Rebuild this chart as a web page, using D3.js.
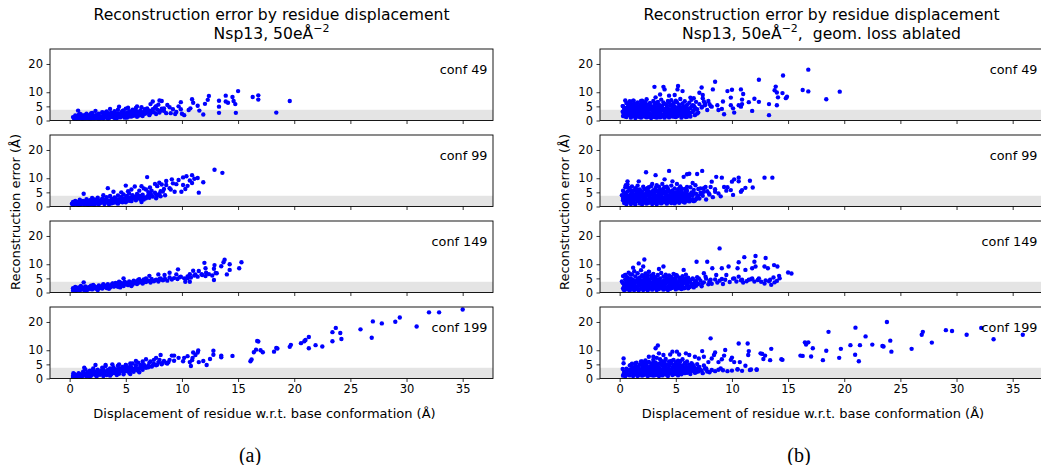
<!DOCTYPE html>
<html><head><meta charset="utf-8">
<script src="https://cdn.jsdelivr.net/npm/d3@7"></script>
<style>
html,body{margin:0;padding:0;background:#fff;}
svg{display:block;font-family:"DejaVu Sans",sans-serif;}
</style>
</head><body><svg id="c" width="1041" height="465"></svg>
<script>
// ---------- data ----------
const confLabels = ["conf 49", "conf 99", "conf 149", "conf 199"];
const xTicks = [0, 5, 10, 15, 20, 25, 30, 35];
const yTicks = [0, 5, 10, 20];
const xDomain = [-1.75, 37.7];
const yDomain = [0, 25.3];
const bandTop = 3.8;

// (displacement Å, reconstruction error Å) — full model
const fullConf49 = [[0.3,1.2],[0.4,0.6],[0.5,1.8],[0.5,0.4],[0.6,1.0],[0.7,0.5],[0.8,1.5],[0.9,0.7],[1.0,2.1],[1.0,0.4],[1.1,1.2],[1.2,0.6],[1.3,1.9],[1.4,0.9],[1.5,2.4],[1.5,0.5],[1.6,1.4],[1.7,0.8],[1.8,2.0],[1.9,0.5],[2.0,1.6],[2.0,2.7],[2.1,1.0],[2.2,0.6],[2.3,1.9],[2.4,1.2],[2.5,0.7],[2.6,2.4],[2.7,1.5],[2.8,0.9],[2.9,2.9],[3.0,1.8],[3.0,0.6],[3.1,1.2],[3.2,2.3],[3.3,3.2],[3.4,1.5],[3.5,0.8],[3.6,2.0],[3.7,2.8],[3.8,1.2],[3.9,1.8],[4.0,3.3],[4.0,0.9],[4.1,2.4],[4.2,1.5],[4.3,3.8],[4.4,2.0],[4.5,1.1],[4.6,2.9],[4.7,1.7],[4.8,3.6],[4.9,2.3],[5.0,1.3],[5.0,4.2],[5.1,2.8],[5.2,1.8],[5.3,3.3],[5.4,2.3],[5.5,1.4],[5.6,3.8],[5.7,2.7],[5.8,2.0],[5.9,4.4],[6.0,3.1],[6.1,1.7],[6.2,2.5],[6.3,3.6],[6.4,4.7],[6.5,2.2],[6.6,3.0],[6.7,4.0],[6.8,2.6],[6.9,3.9],[7.0,3.3],[7.1,1.9],[7.3,3.5],[7.5,2.9],[7.6,4.6],[7.8,3.8],[8.0,2.8],[8.2,4.2],[8.4,3.4],[8.6,2.6],[0.6,0.3],[1.2,0.3],[1.8,0.4],[2.6,0.5],[3.4,0.6],[4.2,0.8],[5.1,1.0],[6.0,1.3],[1.4,1.6],[2.2,1.4],[3.0,2.4],[3.8,2.5],[4.6,1.4],[5.4,3.0],[6.3,1.9],
[0.4,0.9],[0.7,1.3],[0.9,2.4],[1.1,0.7],[1.3,1.3],[1.5,1.9],[1.7,1.2],[1.9,2.5],[2.1,0.8],[2.3,1.3],[2.5,2.0],[2.7,0.8],[2.9,1.3],[3.1,2.8],[3.3,1.0],[3.5,1.9],[3.7,1.5],[3.9,2.6],[4.1,1.1],[4.3,2.5],[4.5,2.1],[4.7,3.4],[4.9,1.0],[5.1,2.0],[5.3,1.4],[5.5,2.9],[5.7,1.7],[5.9,3.4],[6.1,2.3],[6.3,3.0],[6.5,1.6],[6.7,2.4],[6.9,3.0],[7.2,2.6],[7.4,4.0],[7.7,2.3],[0.8,2.0],[2.0,2.0],[3.5,2.5],[4.8,2.7],[5.6,3.3],
[15.0,10.4],[16.3,8.3],[16.8,8.9],[16.8,7.4],[19.6,6.9],[18.4,2.8],[14.8,2.7],[13.3,2.7],[13.3,4.9],[13.3,7.0],[13.9,8.8],[14.5,8.3],[13.9,6.7],[14.1,6.3],[14.6,6.9],[14.75,5.8],[12.4,8.7],[12.3,7.3],[12.05,5.9],[11.9,2.1],[11.4,5.2],[11.55,3.5],[10.9,7.5],[11.0,6.3],[10.75,4.3],[10.6,3.7],[9.9,6.5],[9.9,4.0],[10.2,1.9],[9.4,2.3],[9.2,4.0],[8.7,5.5],[8.9,4.7],[8.2,6.9],[8.0,7.1],[7.4,6.7],[7.2,5.8],[7.7,5.1],[6.9,4.3],[6.0,5.0],[5.2,4.5],[4.4,4.9],[3.6,4.1],[2.3,3.4],[0.75,3.5],[7.9,5.6],[8.4,4.3],[8.1,3.5],[9.5,3.0],[7.0,3.6],[9.0,2.6],[10.0,2.4],[9.7,5.0]];

const fullConf99 = [[0.2,1.0],[0.3,1.6],[0.4,0.6],[0.5,2.0],[0.6,1.1],[0.7,0.5],[0.8,1.7],[0.9,2.4],[1.0,0.8],[1.1,1.4],[1.2,2.0],[1.3,0.6],[1.4,1.1],[1.5,2.6],[1.6,1.7],[1.7,0.7],[1.8,2.2],[1.9,1.2],[2.0,3.0],[2.0,0.9],[2.1,1.8],[2.2,2.5],[2.3,1.0],[2.4,1.5],[2.5,3.1],[2.6,0.8],[2.7,2.1],[2.8,1.3],[2.9,2.8],[3.0,1.7],[3.1,0.9],[3.2,2.4],[3.3,3.3],[3.4,1.4],[3.5,2.0],[3.6,3.7],[3.7,1.1],[3.8,2.7],[3.9,1.8],[4.0,3.2],[4.1,2.2],[4.2,1.3],[4.3,3.9],[4.4,2.6],[4.5,1.7],[4.6,3.4],[4.7,2.1],[4.8,4.3],[4.9,2.9],[5.0,1.5],[5.1,3.7],[5.2,2.4],[5.3,4.6],[5.4,3.1],[5.5,1.9],[5.6,4.0],[5.7,2.8],[5.8,3.5],[5.9,2.2],[6.0,4.4],[6.1,3.0],[6.2,3.8],[6.3,2.5],[6.5,4.2],[6.6,3.3],[6.8,2.9],[7.0,3.9],[7.2,4.6],[7.4,3.5],[7.6,4.9],[7.8,3.8],[8.0,4.4],[8.3,5.3],[8.5,4.0],[0.3,0.5],[0.9,0.5],[1.6,0.5],[2.2,0.6],[3.5,0.8],[4.3,1.0],[1.2,1.5],[2.5,1.9],[3.8,2.0],[4.7,2.6],[5.4,2.3],[6.4,3.6],[7.1,3.1],
[0.3,1.2],[0.5,1.4],[0.7,1.0],[0.8,0.6],[1.0,1.9],[1.2,1.0],[1.4,1.8],[1.6,1.2],[1.8,0.8],[1.9,1.7],[2.1,1.2],[2.3,2.0],[2.5,1.1],[2.7,1.6],[2.9,2.1],[3.1,1.4],[3.3,2.3],[3.5,1.2],[3.7,2.4],[3.9,1.3],[4.1,2.8],[4.3,1.8],[4.5,2.4],[4.7,1.5],[4.9,2.2],[5.1,3.0],[5.3,2.0],[5.5,2.7],[5.7,3.3],[5.9,2.9],[6.1,3.6],[6.3,3.0],[6.6,2.5],[6.9,3.5],[7.3,4.0],[7.7,4.3],[8.1,3.6],[1.0,1.3],[2.0,1.4],[3.0,2.5],[4.0,2.1],
[12.9,13.0],[13.6,11.9],[11.9,8.6],[11.5,4.9],[11.4,10.1],[10.9,11.1],[10.4,10.7],[10.1,10.3],[9.7,9.4],[9.1,9.6],[8.6,9.0],[10.9,8.3],[10.5,7.3],[10.1,7.6],[9.95,5.2],[9.35,5.2],[8.9,6.5],[8.6,7.6],[7.98,8.4],[6.9,10.4],[7.15,6.7],[6.6,6.4],[6.2,5.6],[5.8,7.1],[5.0,7.4],[3.9,5.2],[3.4,6.5],[3.0,4.0],[1.25,4.5],[7.7,2.9],[6.4,1.6],[6.0,2.9],[7.6,8.0],[7.8,7.2],[8.2,7.8],[8.4,6.2],[8.1,5.4],[9.0,6.0],[7.3,5.6],[7.0,5.1],[6.8,6.0],[6.4,7.2],[5.5,6.0],[5.2,5.4],[4.6,5.0],[9.5,7.9],[10.3,6.2],[9.2,8.2],[11.1,9.8],[10.7,9.2]];

const fullConf149 = [[0.3,0.6],[0.3,1.5],[0.4,1.0],[0.5,2.0],[0.6,0.7],[0.7,1.3],[0.8,1.8],[0.9,0.8],[1.0,2.3],[1.1,1.2],[1.2,1.7],[1.3,0.9],[1.4,2.1],[1.5,1.4],[1.6,1.0],[1.7,1.9],[1.8,1.3],[1.9,2.4],[2.0,1.1],[2.1,1.7],[2.2,2.2],[2.3,1.4],[2.4,1.9],[2.5,1.2],[2.6,2.5],[2.7,1.7],[2.8,2.1],[2.9,1.4],[3.0,2.7],[3.1,1.9],[3.2,2.4],[3.3,1.6],[3.4,2.9],[3.5,2.2],[3.6,1.8],[3.7,2.6],[3.8,3.1],[3.9,2.1],[4.0,2.7],[4.1,3.4],[4.2,2.4],[4.3,2.0],[4.4,3.0],[4.5,3.6],[4.6,2.6],[4.7,3.2],[4.8,2.3],[4.9,3.8],[5.0,2.9],[5.1,3.4],[5.2,2.6],[5.3,3.9],[5.4,3.1],[5.5,3.6],[5.6,2.8],[5.7,4.2],[5.8,3.3],[5.9,3.8],[6.0,3.0],[6.1,4.4],[6.2,3.5],[6.4,4.0],[6.5,3.2],[6.6,4.6],[6.8,3.7],[7.0,4.2],[7.2,3.5],[7.3,4.8],[7.5,4.0],[7.7,4.5],[7.9,3.9],[8.1,5.0],[8.3,4.3],[8.5,4.8],[8.7,4.2],[8.9,5.3],[9.1,4.6],[9.3,5.1],[9.6,4.8],[9.9,5.6],[10.2,5.0],[10.5,5.7],[10.8,5.3],[11.1,6.0],[11.4,5.6],[11.8,6.2],[12.1,5.8],[12.4,6.5],[12.7,6.0],[13.0,6.9],[0.5,0.5],[1.5,0.7],[2.5,0.9],[3.5,1.3],[4.5,1.8],[5.5,2.3],[1.0,1.5],[2.0,1.9],[3.0,2.2],[4.0,2.3],
[0.4,1.3],[0.6,1.0],[0.8,1.2],[1.0,1.0],[1.2,1.3],[1.4,1.6],[1.6,1.4],[1.8,1.8],[2.0,1.5],[2.2,1.8],[2.4,1.5],[2.6,1.9],[2.8,1.7],[3.0,2.0],[3.2,2.0],[3.4,2.4],[3.6,2.2],[3.8,2.5],[4.0,2.2],[4.2,2.9],[4.4,2.6],[4.6,3.0],[4.8,2.8],[5.0,3.3],[5.2,3.0],[5.4,3.5],[5.6,3.2],[5.8,3.7],[6.0,3.5],[6.3,3.8],[6.6,3.6],[6.9,4.1],[7.2,3.9],[7.6,4.3],[8.0,4.5],[8.4,4.6],
[15.3,10.7],[15.1,8.6],[14.25,10.0],[13.8,11.6],[13.7,10.7],[14.25,8.0],[14.0,6.4],[13.5,9.3],[12.9,9.7],[12.85,8.4],[13.1,6.8],[12.85,4.4],[12.0,10.5],[12.1,8.6],[12.15,7.0],[11.75,6.5],[11.5,7.6],[11.0,7.7],[11.2,6.4],[10.7,6.5],[10.5,5.0],[10.3,3.8],[10.7,3.8],[9.65,8.2],[9.5,6.4],[8.9,7.0],[8.45,6.2],[7.9,6.4],[8.0,4.8],[7.1,5.9],[6.8,5.0],[6.2,4.7],[5.95,3.8],[4.8,5.0],[4.4,3.8],[3.85,3.2],[3.0,2.9],[2.1,2.7],[1.25,3.6],[9.8,5.4]];

const fullConf199 = [[0.3,1.0],[0.3,0.5],[0.4,1.6],[0.5,0.7],[0.6,1.3],[0.7,0.5],[0.8,1.9],[0.9,0.9],[1.0,1.4],[1.1,0.6],[1.2,2.4],[1.3,1.1],[1.4,3.2],[1.4,1.7],[1.5,0.8],[1.6,2.2],[1.7,1.3],[1.8,2.8],[1.9,1.0],[2.0,1.9],[2.1,3.6],[2.2,1.4],[2.3,2.5],[2.4,1.0],[2.5,3.1],[2.6,1.9],[2.7,1.3],[2.8,2.7],[2.9,3.8],[3.0,1.6],[3.1,2.3],[3.2,4.4],[3.3,1.2],[3.4,3.0],[3.5,2.0],[3.6,3.6],[3.7,1.5],[3.8,2.6],[3.9,4.0],[4.0,1.9],[4.1,3.2],[4.2,2.4],[4.3,4.5],[4.4,1.7],[4.5,3.6],[4.6,2.8],[4.7,4.1],[4.8,2.1],[4.9,3.3],[5.0,4.8],[5.1,2.6],[5.2,3.8],[5.3,2.0],[5.4,4.4],[5.5,3.0],[5.6,5.3],[5.7,2.4],[5.8,3.6],[5.9,4.7],[6.0,2.9],[6.1,5.6],[6.2,3.5],[6.3,4.2],[6.5,3.1],[6.6,5.0],[6.8,3.8],[7.0,4.6],[7.1,5.6],[7.3,4.2],[7.5,5.2],[7.7,4.7],[7.9,5.8],[8.2,5.0],[8.4,6.2],[8.6,5.5],[0.6,0.5],[1.0,0.5],[1.8,0.6],[2.4,0.7],[3.0,0.9],[3.6,1.0],[4.2,1.2],[4.8,1.5],[5.4,1.6],[6.2,2.2],[2.0,2.6],[3.0,3.3],[4.0,2.9],[5.0,3.5],
[0.4,0.8],[0.5,1.2],[0.7,1.0],[0.9,1.4],[1.1,1.1],[1.3,1.5],[1.5,1.3],[1.7,1.8],[1.9,1.5],[2.1,2.1],[2.3,1.6],[2.5,2.2],[2.7,2.0],[2.9,2.4],[3.1,1.8],[3.3,2.6],[3.5,2.4],[3.7,2.9],[3.9,2.3],[4.1,2.7],[4.3,3.3],[4.5,2.6],[4.7,3.1],[4.9,2.6],[5.1,3.4],[5.3,3.1],[5.5,3.9],[5.7,3.3],[5.9,3.8],[6.1,3.3],[6.4,3.8],[6.7,4.2],[7.0,4.0],[7.4,4.6],[7.8,4.9],[8.2,5.4],[8.8,5.8],[9.3,6.3],
[35.0,24.4],[32.9,23.4],[32.0,23.4],[29.4,21.6],[29.0,20.1],[27.0,20.2],[27.8,19.5],[30.9,18.4],[25.9,17.4],[26.9,14.4],[23.4,16.4],[23.7,17.9],[24.1,16.1],[24.2,14.0],[23.4,13.2],[21.3,14.7],[21.0,13.6],[20.9,13.2],[20.6,12.5],[21.9,11.8],[21.3,10.7],[22.5,11.3],[19.7,11.9],[19.6,11.2],[18.5,10.6],[18.4,10.8],[18.2,9.5],[17.2,9.3],[17.0,10.0],[16.7,13.3],[16.8,13.1],[16.6,10.2],[16.4,9.3],[16.2,6.7],[16.1,6.1],[14.5,8.0],[13.5,8.1],[13.5,7.5],[12.8,9.8],[12.8,8.4],[12.5,6.9],[12.2,4.8],[11.9,6.2],[11.5,5.8],[11.45,9.9],[11.4,9.2],[11.2,8.3],[11.0,9.2],[10.95,7.3],[10.9,6.5],[10.5,7.9],[10.2,7.3],[10.1,6.1],[9.7,7.3],[9.3,8.1],[9.1,8.1],[8.9,6.6],[8.7,5.3],[8.1,8.3],[8.0,6.6],[7.7,7.3],[7.5,6.6],[7.2,6.0],[6.8,6.8],[6.5,6.0],[6.3,4.8],[5.9,6.2],[5.4,5.3],[5.0,4.8],[4.4,5.0],[3.8,5.0],[3.2,4.8],[2.3,4.8],[1.3,3.8],[0.33,1.9],[10.7,5.8],[10.8,4.4]];

// geometry loss ablated
const ablatedConf49 = [[0.3,3.1],[0.3,5.1],[0.3,1.6],[0.4,4.2],[0.4,2.4],[0.6,6.2],[0.6,3.6],[0.6,1.2],[0.7,4.8],[0.7,2.7],[0.8,5.6],[0.8,1.9],[0.9,3.9],[0.9,6.8],[1.0,2.2],[1.0,4.5],[1.0,1.0],[1.1,5.3],[1.1,3.0],[1.2,7.0],[1.2,1.6],[1.3,4.1],[1.3,2.5],[1.4,5.9],[1.4,0.9],[1.5,3.4],[1.5,4.8],[1.6,2.0],[1.6,6.4],[1.7,1.3],[1.7,3.9],[1.8,5.2],[1.8,2.7],[1.9,4.4],[1.9,1.0],[2.0,6.0],[2.0,3.2],[2.1,2.1],[2.1,5.0],[2.2,1.4],[2.2,3.8],[2.3,6.6],[2.3,2.6],[2.4,4.6],[2.4,1.1],[2.5,5.6],[2.5,3.0],[2.6,1.8],[2.6,4.0],[2.7,6.2],[2.7,2.3],[2.8,5.0],[2.8,0.9],[2.9,3.5],[2.9,1.5],[3.0,4.5],[3.0,6.9],[3.0,2.8],[3.1,1.2],[3.1,5.4],[3.2,3.9],[3.2,2.0],[3.3,6.0],[3.3,1.0],[3.4,4.8],[3.4,3.1],[3.5,1.7],[3.5,5.7],[3.6,2.5],[3.6,4.2],[3.7,7.4],[3.7,1.3],[3.8,3.6],[3.8,5.2],[3.9,2.1],[3.9,6.4],[4.0,1.0],[4.0,4.0],[4.1,2.9],[4.1,5.8],[4.2,1.6],[4.2,4.7],[4.3,3.3],[4.3,6.9],[4.4,2.2],[4.4,1.1],[4.5,5.3],[4.5,3.8],[4.6,2.6],[4.6,7.2],[4.7,1.4],[4.7,4.4],[4.8,6.1],[4.8,3.0],[4.9,2.0],[4.9,5.0],[5.0,1.2],[5.0,3.6],[5.1,6.5],[5.1,2.5],[5.2,4.6],[5.2,1.7],[5.3,5.6],[5.3,3.2],[5.4,7.6],[5.4,2.1],[5.5,4.1],[5.5,1.0],[5.6,6.0],[5.6,2.9],[5.7,5.0],[5.7,1.6],[5.8,3.6],[5.8,6.8],[5.9,2.3],[5.9,4.5],[6.0,1.3],[6.0,5.5],[6.1,3.2],[6.2,6.3],[6.2,2.0],[6.3,4.3],[6.4,7.3],[6.5,3.0],[6.6,5.2],[6.7,1.9],[6.8,6.6],[6.9,4.0],[7.0,2.8],[7.1,5.8],[7.3,4.6],[7.4,7.9],[7.6,6.0],[7.8,3.7],[7.9,6.9],[8.1,5.1],[0.5,2.0],[1.2,3.5],[2.0,4.3],[2.6,1.3],[3.4,2.3],[4.1,3.5],[4.8,1.8],[5.3,4.2],[2.2,5.5],[1.5,2.8],
[0.5,1.4],[0.6,4.4],[0.8,2.9],[0.9,5.0],[1.0,3.4],[1.1,1.8],[1.2,4.8],[1.3,3.2],[1.4,1.9],[1.5,5.5],[1.6,3.0],[1.7,4.6],[1.8,1.6],[1.9,3.4],[2.0,2.4],[2.1,4.1],[2.2,6.0],[2.3,1.8],[2.4,3.4],[2.5,4.3],[2.6,2.6],[2.7,5.2],[2.8,3.8],[2.9,1.9],[3.0,3.4],[3.1,4.9],[3.2,2.5],[3.3,3.6],[3.4,1.5],[3.5,4.4],[3.6,3.0],[3.7,5.0],[3.8,2.0],[3.9,4.0],[4.0,3.0],[4.1,1.9],[4.2,5.4],[4.3,2.6],[4.4,4.0],[4.5,1.7],[4.6,3.4],[4.7,5.6],[4.8,2.3],[4.9,4.0],[5.0,2.8],[5.1,1.5],[5.2,3.8],[5.3,2.6],[5.4,4.8],[5.5,2.6],[5.6,3.9],[5.7,2.2],[5.8,4.9],[5.9,3.1],[6.0,2.4],[6.1,4.2],[6.3,2.7],[6.4,5.0],[6.6,3.5],[6.9,2.5],[1.0,6.0],[2.0,7.0],[3.4,6.6],[4.4,6.4],[5.0,7.0],[0.7,3.2],[1.3,5.6],[2.5,1.5],[3.6,1.1],[4.9,1.3],[1.9,5.8],[3.1,6.2],
[16.8,18.0],[14.55,15.9],[12.4,14.4],[13.9,12.0],[13.8,10.7],[14.0,9.9],[14.5,9.7],[14.1,8.2],[14.8,7.9],[14.9,8.4],[16.3,10.8],[16.8,10.3],[18.4,7.5],[19.6,10.2],[13.3,5.8],[13.3,1.9],[14.0,5.4],[12.0,7.7],[12.4,6.6],[11.5,6.5],[11.8,3.4],[10.8,11.0],[11.0,9.4],[10.9,7.4],[10.9,5.8],[10.8,4.9],[10.6,5.4],[10.0,10.9],[9.6,10.4],[9.9,8.1],[9.9,5.4],[10.1,4.3],[10.2,2.8],[9.3,2.2],[9.2,6.7],[9.1,4.1],[8.8,3.7],[8.5,13.7],[8.3,11.0],[8.0,5.8],[8.2,4.9],[8.7,5.4],[7.3,11.7],[7.4,9.0],[7.1,9.8],[7.5,6.7],[7.35,4.9],[7.6,5.4],[6.6,7.9],[6.3,8.1],[6.5,5.4],[6.7,4.6],[6.3,1.4],[5.9,1.2],[5.6,10.4],[5.2,12.2],[5.15,11.0],[4.9,9.0],[4.4,8.8],[3.9,11.9],[4.0,11.0],[3.6,9.2],[3.1,11.9],[3.2,8.2],[2.4,7.5],[1.9,6.9],[1.25,7.0],[0.5,7.1],[0.27,5.1],[0.27,3.1]];

const ablatedConf99 = [[0.2,4.0],[0.3,2.2],[0.3,5.6],[0.4,1.2],[0.4,3.4],[0.5,6.8],[0.5,4.6],[0.6,2.8],[0.6,0.8],[0.7,7.8],[0.7,5.3],[0.8,3.8],[0.8,1.7],[0.9,6.2],[0.9,2.5],[1.0,4.4],[1.0,0.9],[1.1,7.1],[1.1,3.1],[1.2,5.5],[1.2,1.5],[1.3,4.0],[1.3,2.3],[1.4,6.5],[1.4,0.7],[1.5,3.5],[1.5,5.0],[1.6,1.9],[1.6,7.4],[1.7,2.9],[1.7,4.6],[1.8,1.1],[1.8,6.0],[1.9,3.7],[1.9,2.2],[2.0,5.3],[2.0,0.8],[2.1,4.2],[2.1,7.0],[2.2,2.7],[2.2,1.4],[2.3,5.9],[2.3,3.5],[2.4,4.8],[2.4,1.0],[2.5,6.6],[2.5,2.2],[2.6,3.9],[2.6,5.4],[2.7,1.6],[2.7,3.0],[2.8,7.2],[2.8,4.4],[2.9,0.9],[2.9,2.5],[3.0,5.8],[3.0,3.6],[3.1,1.3],[3.1,4.9],[3.2,6.6],[3.2,2.1],[3.3,3.2],[3.3,0.8],[3.4,5.3],[3.4,4.1],[3.5,1.8],[3.5,7.0],[3.6,2.8],[3.6,6.0],[3.7,3.8],[3.7,1.1],[3.8,4.7],[3.8,2.4],[3.9,5.6],[3.9,1.5],[4.0,3.3],[4.0,6.8],[4.1,2.0],[4.1,4.4],[4.2,1.0],[4.2,5.2],[4.3,2.9],[4.3,6.3],[4.4,3.9],[4.4,1.7],[4.5,4.9],[4.5,2.5],[4.6,7.4],[4.6,1.2],[4.7,3.5],[4.7,5.7],[4.8,2.2],[4.8,4.3],[4.9,1.5],[4.9,6.4],[5.0,3.0],[5.0,5.1],[5.1,1.9],[5.1,3.9],[5.2,6.0],[5.2,2.6],[5.3,1.3],[5.3,4.6],[5.4,3.3],[5.4,7.1],[5.5,2.0],[5.5,5.4],[5.6,4.1],[5.7,1.6],[5.7,2.9],[5.8,6.2],[5.8,4.8],[5.9,3.6],[6.0,2.3],[6.0,5.6],[6.1,4.3],[6.2,1.8],[6.2,3.1],[6.3,6.8],[6.4,5.0],[6.5,2.6],[6.5,3.9],[6.6,5.9],[6.7,2.1],[6.8,4.5],[6.9,3.3],[7.0,6.2],[7.1,2.8],[7.2,4.9],[7.4,3.8],[7.5,6.5],[7.7,2.5],[7.8,5.4],[8.0,4.2],[8.3,3.3],[8.5,6.1],[8.8,4.6],[9.0,3.6],[9.5,5.6],[0.5,3.0],[1.1,2.0],[1.7,3.3],[2.4,2.6],[3.0,1.9],[3.6,3.3],[4.3,2.4],[5.0,1.6],
[0.3,3.0],[0.5,1.7],[0.6,4.1],[0.7,2.4],[0.9,3.4],[1.0,5.6],[1.1,2.6],[1.2,4.2],[1.3,1.1],[1.4,3.0],[1.5,4.2],[1.6,2.5],[1.7,5.6],[1.8,3.3],[1.9,4.8],[2.0,2.0],[2.1,3.0],[2.2,6.3],[2.3,2.0],[2.4,3.8],[2.5,5.0],[2.6,1.3],[2.7,4.4],[2.8,2.7],[2.9,5.2],[3.0,2.7],[3.1,4.0],[3.2,1.6],[3.3,5.6],[3.4,2.5],[3.5,4.2],[3.6,1.4],[3.7,5.0],[3.8,3.2],[3.9,2.0],[4.0,5.3],[4.1,2.6],[4.2,4.0],[4.3,1.5],[4.4,5.5],[4.5,3.4],[4.6,2.0],[4.7,4.6],[4.8,3.0],[4.9,1.1],[5.0,4.2],[5.1,2.5],[5.2,5.0],[5.3,3.5],[5.4,1.8],[5.5,4.0],[5.6,2.5],[5.7,3.8],[5.8,1.4],[5.9,5.0],[6.0,3.3],[6.1,2.0],[6.3,4.2],[6.4,2.2],[6.6,4.8],[6.8,2.6],[7.0,3.7],[7.3,4.3],[0.8,6.6],[1.5,6.1],[2.6,6.8],[3.9,6.4],[4.2,7.0],[5.3,6.4],[0.4,4.9],[1.2,3.6],[2.3,4.4],
[2.35,12.1],[3.2,11.1],[4.4,12.6],[5.7,10.5],[6.0,11.4],[6.2,11.6],[6.9,11.5],[7.35,12.6],[12.9,10.2],[13.6,10.2],[11.6,9.1],[10.6,10.2],[10.2,9.6],[10.0,8.8],[10.6,8.9],[10.9,5.8],[10.8,5.2],[11.2,6.6],[11.85,6.7],[9.9,5.8],[10.1,4.1],[9.6,6.8],[9.3,6.9],[9.1,10.2],[8.6,10.5],[8.2,8.8],[8.1,6.9],[7.65,6.9],[7.5,5.2],[8.5,5.2],[7.95,4.6],[7.2,6.4],[6.75,7.5],[6.5,8.3],[6.0,6.9],[5.5,6.4],[5.1,8.0],[4.7,8.9],[4.0,9.6],[3.8,8.0],[3.3,7.5],[2.9,8.0],[1.7,8.9],[0.7,8.9],[0.55,7.5],[5.9,2.2],[6.6,1.9]];

const ablatedConf149 = [[0.2,3.9],[0.3,1.4],[0.3,5.8],[0.4,2.7],[0.4,0.8],[0.5,4.7],[0.5,6.2],[0.6,2.0],[0.6,3.3],[0.7,5.4],[0.7,1.1],[0.8,4.1],[0.8,7.0],[0.9,2.6],[0.9,0.7],[1.0,5.0],[1.0,3.6],[1.1,1.6],[1.1,6.4],[1.2,2.9],[1.2,4.4],[1.3,0.9],[1.3,7.5],[1.4,3.8],[1.4,5.7],[1.5,2.2],[1.5,1.2],[1.6,4.9],[1.6,6.8],[1.7,3.2],[1.7,0.7],[1.8,5.3],[1.8,2.5],[1.9,4.2],[1.9,7.9],[2.0,1.5],[2.0,6.1],[2.1,3.5],[2.1,0.9],[2.2,4.8],[2.2,2.1],[2.3,6.7],[2.3,1.2],[2.4,3.9],[2.4,5.5],[2.5,2.8],[2.5,0.8],[2.6,4.5],[2.6,7.3],[2.7,1.8],[2.7,3.2],[2.8,6.0],[2.8,5.0],[2.9,2.3],[2.9,1.0],[3.0,4.0],[3.0,6.6],[3.1,3.0],[3.1,1.5],[3.2,5.4],[3.2,2.0],[3.3,4.5],[3.3,0.9],[3.4,6.2],[3.4,3.4],[3.5,2.6],[3.5,1.2],[3.6,5.0],[3.6,4.0],[3.7,1.8],[3.7,6.9],[3.8,3.1],[3.8,2.2],[3.9,5.6],[3.9,1.0],[4.0,4.3],[4.0,2.7],[4.1,6.3],[4.1,1.5],[4.2,3.6],[4.2,5.1],[4.3,2.0],[4.3,0.9],[4.4,4.7],[4.4,6.0],[4.5,3.0],[4.5,1.3],[4.6,5.5],[4.6,2.4],[4.7,4.0],[4.7,1.7],[4.8,6.6],[4.8,3.3],[4.9,2.0],[4.9,5.0],[5.0,1.1],[5.0,4.4],[5.1,2.8],[5.1,6.0],[5.2,3.6],[5.2,1.5],[5.3,5.2],[5.3,2.3],[5.4,4.1],[5.5,1.2],[5.5,3.0],[5.6,5.8],[5.6,2.0],[5.7,4.6],[5.8,3.4],[5.8,1.6],[5.9,6.3],[6.0,2.6],[6.0,4.0],[6.1,5.2],[6.2,1.9],[6.3,3.7],[6.4,2.9],[6.5,4.8],[6.6,1.8],[6.7,3.5],[6.8,2.4],[6.9,5.4],[7.0,3.0],[7.2,4.2],[7.3,2.2],[7.5,3.6],[7.7,4.9],[7.9,2.9],[8.0,4.0],[8.2,3.1],[8.5,4.6],[8.7,3.5],[8.9,4.2],[9.2,3.0],[9.4,4.5],[9.8,3.7],[10.1,4.9],[10.4,3.9],[10.8,4.3],[11.0,3.5],[11.3,4.0],[11.7,4.7],[12.0,3.9],[12.3,4.4],[12.6,3.8],[13.0,4.3],[13.4,4.5],[13.8,3.6],[14.0,4.1],[0.5,2.4],[1.2,1.9],[2.0,3.0],[2.6,1.5],[3.3,2.7],[4.0,1.8],[4.8,2.6],[1.6,3.7],
[0.3,3.3],[0.4,2.0],[0.5,1.2],[0.6,4.0],[0.7,2.8],[0.8,1.4],[0.9,3.6],[1.0,2.2],[1.1,4.4],[1.2,1.1],[1.3,3.3],[1.4,2.0],[1.5,4.2],[1.6,1.5],[1.7,2.6],[1.8,3.8],[1.9,1.4],[2.0,4.3],[2.1,2.6],[2.2,3.6],[2.3,1.8],[2.4,3.0],[2.5,4.8],[2.6,2.2],[2.7,3.7],[2.8,1.5],[2.9,3.3],[3.0,1.9],[3.1,4.6],[3.2,2.7],[3.3,3.6],[3.4,1.6],[3.5,4.4],[3.6,2.3],[3.7,3.4],[3.8,1.5],[3.9,4.1],[4.0,2.0],[4.1,3.1],[4.2,1.2],[4.3,4.0],[4.4,2.5],[4.5,3.7],[4.6,1.6],[4.7,3.0],[4.8,4.5],[4.9,2.9],[5.0,1.8],[5.1,3.5],[5.2,2.4],[5.3,4.0],[5.4,1.5],[5.5,3.6],[5.6,2.7],[5.7,1.5],[5.8,4.2],[6.0,3.2],[6.1,1.5],[6.2,4.4],[6.4,2.2],[6.6,3.0],[6.8,4.0],[1.0,6.4],[2.1,5.7],[3.0,5.6],[4.0,5.6],[5.0,5.6],[0.9,4.8],[1.7,4.6],[2.5,6.0],
[8.9,15.6],[6.85,10.9],[7.8,10.9],[13.0,12.2],[12.1,12.9],[11.1,12.5],[12.0,10.9],[11.2,8.0],[11.8,8.6],[12.1,9.2],[12.9,9.2],[13.2,8.6],[13.75,9.7],[14.05,9.2],[14.2,5.9],[14.25,5.0],[15.0,7.1],[15.3,6.7],[13.7,5.3],[13.3,4.0],[13.5,2.7],[12.9,3.2],[12.4,5.0],[11.8,5.0],[11.5,4.5],[10.6,10.7],[10.5,8.6],[10.6,5.6],[10.9,4.5],[10.2,5.0],[9.7,9.2],[9.5,6.2],[9.1,8.6],[9.1,4.8],[8.6,6.2],[8.25,8.6],[8.1,4.5],[7.65,5.6],[7.5,6.8],[7.35,3.2],[7.05,5.0],[6.75,4.1],[6.5,5.0],[6.2,2.1],[5.7,8.0],[5.85,5.0],[5.4,5.0],[5.0,6.2],[4.7,4.4],[3.9,9.2],[3.5,8.3],[2.6,7.4],[2.2,11.7],[1.7,10.3],[1.2,8.8],[2.1,9.2],[0.5,6.2]];

const ablatedConf199 = [[0.3,1.0],[0.4,2.4],[0.5,0.8],[0.6,3.5],[0.7,1.6],[0.8,2.8],[0.9,4.6],[0.9,1.1],[1.0,3.2],[1.1,2.0],[1.1,5.2],[1.2,0.9],[1.2,3.9],[1.3,2.6],[1.4,1.4],[1.4,4.5],[1.5,3.0],[1.5,5.6],[1.6,2.0],[1.6,0.9],[1.7,3.7],[1.8,4.9],[1.8,1.5],[1.9,2.7],[1.9,6.0],[2.0,3.4],[2.0,1.0],[2.1,4.3],[2.1,2.1],[2.2,5.4],[2.2,1.3],[2.3,3.0],[2.3,6.4],[2.4,2.3],[2.4,4.7],[2.5,0.9],[2.5,3.6],[2.6,5.9],[2.6,1.7],[2.7,2.9],[2.7,4.1],[2.8,1.2],[2.8,5.2],[2.9,2.4],[2.9,3.4],[3.0,6.6],[3.0,1.0],[3.1,4.5],[3.1,2.0],[3.2,3.1],[3.2,5.7],[3.3,1.4],[3.3,7.3],[3.4,2.6],[3.4,4.0],[3.5,0.9],[3.5,5.2],[3.6,3.4],[3.6,1.8],[3.7,6.2],[3.7,2.3],[3.8,4.6],[3.8,1.1],[3.9,3.0],[3.9,5.6],[4.0,2.0],[4.0,4.0],[4.1,6.9],[4.1,1.4],[4.2,3.5],[4.2,5.0],[4.3,2.5],[4.3,0.9],[4.4,4.4],[4.4,6.0],[4.5,1.8],[4.5,3.1],[4.6,5.4],[4.6,2.2],[4.7,3.8],[4.7,1.2],[4.8,6.6],[4.8,4.9],[4.9,2.7],[4.9,1.6],[5.0,3.5],[5.0,5.8],[5.1,2.0],[5.1,4.2],[5.2,1.1],[5.2,6.3],[5.3,3.0],[5.3,5.1],[5.4,2.4],[5.5,4.5],[5.5,1.5],[5.6,3.6],[5.6,6.8],[5.7,2.8],[5.8,5.5],[5.8,1.9],[5.9,4.0],[6.0,3.1],[6.0,6.0],[6.1,2.2],[6.2,4.8],[6.3,1.6],[6.3,3.6],[6.4,5.4],[6.5,2.7],[6.6,4.3],[6.7,2.0],[6.8,3.4],[6.9,5.1],[7.0,2.5],[7.1,4.1],[7.2,3.0],[7.4,1.9],[7.5,4.6],[7.7,3.3],[7.8,2.5],[8.0,2.2],[8.2,3.0],[8.5,2.6],[8.8,3.1],[9.2,2.9],[9.6,2.6],[10.0,2.8],[10.5,3.2],[10.9,2.7],[11.6,3.0],[12.2,3.1],[1.3,1.8],[2.0,2.6],[2.7,1.5],[3.4,3.2],[4.1,2.7],[4.8,2.1],[5.4,3.3],[6.1,3.9],
[0.5,2.0],[0.7,3.0],[0.8,1.3],[1.0,2.3],[1.1,3.5],[1.3,1.6],[1.4,3.5],[1.5,2.2],[1.6,4.2],[1.7,1.2],[1.8,3.2],[1.9,1.9],[2.0,4.6],[2.1,1.5],[2.2,3.5],[2.3,2.2],[2.4,5.4],[2.5,2.6],[2.6,3.9],[2.7,1.2],[2.8,3.4],[2.9,4.6],[3.0,2.2],[3.1,3.6],[3.2,1.2],[3.3,4.8],[3.4,2.0],[3.5,3.8],[3.6,2.6],[3.7,4.9],[3.8,1.7],[3.9,3.6],[4.0,2.5],[4.1,4.6],[4.2,1.6],[4.3,3.2],[4.4,2.1],[4.5,5.2],[4.6,3.0],[4.7,2.4],[4.8,4.2],[4.9,1.9],[5.0,3.0],[5.1,5.0],[5.2,2.3],[5.3,4.3],[5.4,2.9],[5.5,1.8],[5.6,4.6],[5.7,3.4],[5.8,2.4],[5.9,5.0],[6.0,2.0],[6.1,3.4],[6.3,2.6],[6.4,4.0],[6.6,3.1],[6.8,2.2],[7.0,3.8],[7.3,2.7],[7.6,3.6],[2.0,5.6],[3.0,5.8],[4.0,6.1],[3.6,6.8],[4.6,6.2],[5.4,6.1],[1.2,2.9],[2.5,1.4],[3.5,1.5],
[35.9,15.5],[33.3,13.9],[32.2,17.9],[30.9,15.5],[29.6,16.8],[29.05,17.1],[27.8,12.7],[27.0,16.5],[26.9,15.5],[26.0,10.5],[24.1,13.4],[24.2,9.5],[23.8,20.0],[23.4,11.5],[23.5,11.3],[22.5,12.0],[21.9,14.9],[21.4,11.8],[21.0,18.0],[20.97,8.4],[21.3,6.1],[20.55,11.8],[19.7,10.5],[19.55,7.3],[18.6,16.5],[18.4,9.8],[18.1,6.5],[17.2,10.7],[17.05,7.8],[16.8,12.8],[16.5,12.8],[16.6,12.0],[16.1,8.1],[16.3,8.0],[14.5,6.6],[13.5,10.5],[13.4,6.5],[12.95,8.1],[12.7,8.7],[12.2,3.2],[8.1,14.2],[10.6,12.4],[11.4,12.4],[11.5,9.7],[11.45,8.3],[12.55,8.9],[12.8,6.9],[14.4,6.8],[11.7,3.2],[11.2,4.5],[10.7,5.8],[10.5,3.3],[10.2,5.8],[10.0,7.4],[9.9,6.6],[9.4,10.1],[9.3,8.1],[9.1,6.8],[8.8,5.8],[9.0,3.6],[8.5,9.2],[8.4,8.3],[8.2,7.1],[7.9,5.8],[7.7,3.6],[7.35,9.7],[7.5,7.7],[7.05,7.1],[6.7,7.7],[6.5,5.0],[6.2,8.3],[5.9,8.9],[5.3,8.5],[5.1,9.5],[4.7,9.5],[4.5,8.5],[3.9,8.3],[3.5,8.9],[3.2,10.7],[3.4,11.7],[3.0,7.7],[2.6,7.7],[2.0,6.0],[1.4,5.4],[1.0,4.8],[0.35,7.1],[0.35,5.4],[0.27,3.4],[0.35,1.5]];

// ---------- drawing ----------
const svg = d3.select("#c");
const panelTops = [49, 135, 221, 307];
const panelH = 71.5;

const columns = [
  {x0: 50, x1: 493, panels: [fullConf49, fullConf99, fullConf149, fullConf199],
   title2: ["Nsp13, 50eÅ", "−2", ""], ylabX: 15.5, xlabX: 264.5, cap: "(a)", capX: 250},
  {x0: 600, x1: 1043, panels: [ablatedConf49, ablatedConf99, ablatedConf149, ablatedConf199],
   title2: ["Nsp13, 50eÅ", "−2", ",  geom. loss ablated"], ylabX: 564.5, xlabX: 813, cap: "(b)", capX: 799}
];

const y = d3.scaleLinear().domain(yDomain).range([panelH, 0]);

columns.forEach((col, ci) => {
  const x = d3.scaleLinear().domain(xDomain).range([col.x0, col.x1]);
  const cx = (col.x0 + col.x1) / 2;

  // title
  svg.append("text").attr("x", cx).attr("y", 19.5).attr("text-anchor", "middle")
    .attr("font-size", 15.6).attr("fill", "#000")
    .text("Reconstruction error by residue displacement");
  const t2 = svg.append("text").attr("x", cx).attr("y", 38.5).attr("text-anchor", "middle")
    .attr("font-size", 15.6).attr("fill", "#000").style("white-space", "pre");
  t2.append("tspan").text(col.title2[0]);
  t2.append("tspan").attr("dy", -6.5).attr("font-size", 11).text(col.title2[1]);
  if (col.title2[2]) t2.append("tspan").attr("dy", 6.5).text(col.title2[2]);

  const clipId = "clip" + ci;
  svg.append("clipPath").attr("id", clipId).append("rect")
    .attr("x", col.x0).attr("y", 0).attr("width", col.x1 - col.x0).attr("height", panelH);

  col.panels.forEach((data, i) => {
    const g = svg.append("g").attr("transform", `translate(0,${panelTops[i]})`);
    // band
    g.append("rect").attr("x", col.x0).attr("width", col.x1 - col.x0)
      .attr("y", y(bandTop)).attr("height", y(0) - y(bandTop)).attr("fill", "#e4e4e4");
    // points
    g.append("g").attr("clip-path", `url(#${clipId})`)
      .selectAll("circle").data(data).join("circle")
      .attr("cx", d => x(d[0])).attr("cy", d => y(d[1])).attr("r", 2.2).attr("fill", "#0000ff");
    // frame
    g.append("rect").attr("x", col.x0).attr("y", 0).attr("width", col.x1 - col.x0).attr("height", panelH)
      .attr("fill", "none").attr("stroke", "#000").attr("stroke-width", 0.9);
    // x axis
    const xa = g.append("g").attr("transform", `translate(0,${panelH})`)
      .call(d3.axisBottom(x).tickValues(xTicks).tickSize(3.5).tickPadding(3.2).tickFormat(d3.format("d")));
    xa.select(".domain").remove();
    xa.selectAll("line").attr("stroke", "#000").attr("stroke-width", 0.8);
    xa.selectAll("text").attr("font-size", 11.5).attr("font-family", "DejaVu Sans").attr("fill", "#000");
    if (i < 3) xa.selectAll("text").remove();
    // y axis
    const ya = g.append("g").attr("transform", `translate(${col.x0},0)`)
      .call(d3.axisLeft(y).tickValues(yTicks).tickSize(3.5).tickPadding(3.5).tickFormat(d3.format("d")));
    ya.select(".domain").remove();
    ya.selectAll("line").attr("stroke", "#000").attr("stroke-width", 0.8);
    ya.selectAll("text").attr("font-size", 11.5).attr("font-family", "DejaVu Sans").attr("fill", "#000");
    // conf label
    g.append("text").attr("x", col.x1 - 5.5).attr("y", 24.5).attr("text-anchor", "end")
      .attr("font-size", 12.8).attr("fill", "#000").text(confLabels[i]);
  });

  // axis labels
  svg.append("text").attr("transform", `translate(${col.ylabX},212) rotate(-90)`)
    .attr("text-anchor", "middle").attr("dominant-baseline", "central")
    .attr("font-size", 13).attr("fill", "#000").text("Reconstruction error (Å)");
  svg.append("text").attr("x", col.xlabX).attr("y", 417.5).attr("text-anchor", "middle")
    .attr("font-size", 13).attr("fill", "#000")
    .text("Displacement of residue w.r.t. base conformation (Å)");
  // caption
  svg.append("text").attr("x", col.capX).attr("y", 461.5).attr("text-anchor", "middle")
    .attr("font-family", "'Liberation Serif', serif").attr("font-size", 20).attr("fill", "#000")
    .text(col.cap);
});
</script></body></html>
